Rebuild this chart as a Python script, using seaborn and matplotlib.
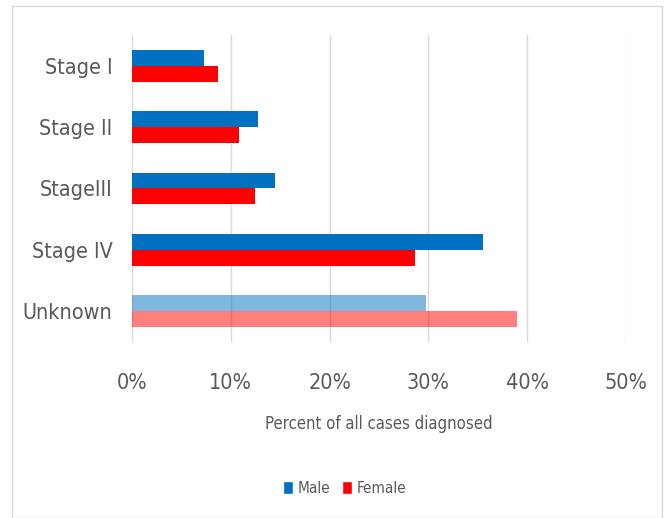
import matplotlib
matplotlib.use("Agg")
import matplotlib.pyplot as plt
import seaborn as sns
import pandas as pd
from matplotlib.patches import Rectangle, Patch
from matplotlib.ticker import FuncFormatter
from matplotlib import font_manager

categories = ["Stage I", "Stage II", "StageIII", "Stage IV", "Unknown"]
male = [7.3, 12.8, 14.5, 35.5, 29.8]
female = [8.7, 10.8, 12.5, 28.6, 39.0]
series = ["Male", "Female"]
colors = {"Male": "#0070C0", "Female": "#FF0000"}

df = pd.DataFrame({
    "Stage": categories * 2,
    "Percent": male + female,
    "Sex": ["Male"] * len(categories) + ["Female"] * len(categories),
})

sns.set_style("white")
names = {f.name for f in font_manager.fontManager.ttflist}
fam = "Liberation Sans Narrow" if "Liberation Sans Narrow" in names else "DejaVu Sans"
plt.rcParams["font.family"] = [fam, "DejaVu Sans"]
plt.rcParams["font.stretch"] = "condensed"

fig = plt.figure(figsize=(6.69, 5.18), dpi=100)
ax = fig.add_axes([0.1973, 0.3398, 0.7384, 0.5927])

sns.barplot(data=df, y="Stage", x="Percent", hue="Sex", order=categories,
            hue_order=series, palette=colors, orient="h", width=0.52,
            ax=ax, saturation=1, legend=False)

for cont in ax.containers:
    cont.patches[-1].set_alpha(0.5)
    for p in cont.patches:
        p.set_edgecolor("none")

ax.set_xlim(0, 50)
ax.set_ylim(4.5, -0.5)
ax.set_xticks([0, 10, 20, 30, 40, 50])
ax.xaxis.set_major_formatter(FuncFormatter(lambda v, p: f"{int(v)}%"))
ax.grid(axis="x", color="#D9D9D9", linewidth=1)
ax.grid(axis="y", visible=False)
ax.set_axisbelow(True)
for s in ax.spines.values():
    s.set_visible(False)
ax.tick_params(axis="both", length=0, labelsize=15.5, colors="#595959")
ax.tick_params(axis="x", pad=22)
ax.tick_params(axis="y", pad=14)
ax.set_ylabel("")
ax.set_xlabel("Percent of all cases diagnosed", fontsize=12, color="#595959", labelpad=16)

handles = [Patch(facecolor=colors[s], label=s) for s in series]
fig.legend(handles=handles, loc="center", bbox_to_anchor=(0.515, 0.057), ncol=2,
           frameon=False, fontsize=11, handlelength=0.65, handleheight=0.9,
           handletextpad=0.3, columnspacing=0.8, labelcolor="#595959")

fig.patches.append(Rectangle((12 / 669, 0), 650 / 669, 1 - 6 / 518, transform=fig.transFigure,
                             fill=False, edgecolor="#D9D9D9", linewidth=1))

fig.savefig("out.png", dpi=100)
